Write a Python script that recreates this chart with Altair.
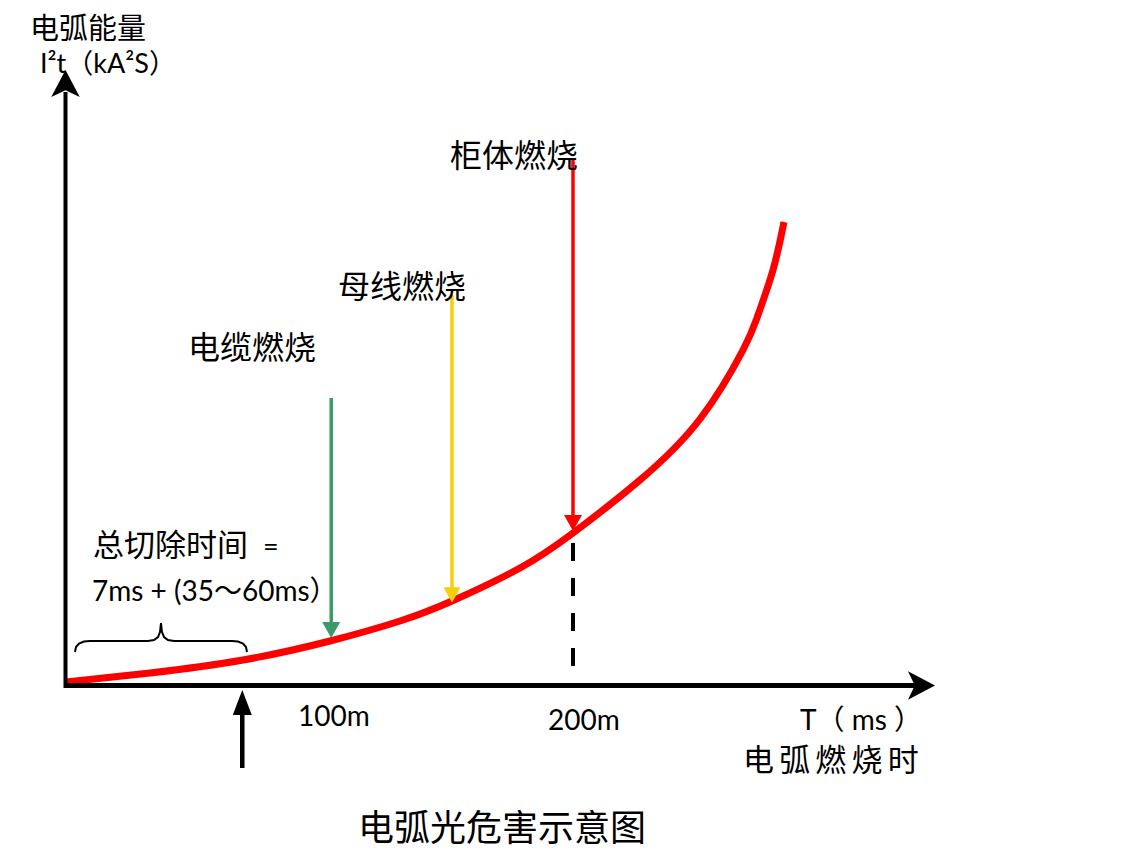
import altair as alt
import pandas as pd

# Coordinate system: x = arc burning time (ms), y = arc energy (arbitrary units)
X_DOMAIN = [-32.51, 432.92]
Y_DOMAIN = [-169, 677]

# Arc energy curve
curve_t = [-8.64, 25.93, 64.20, 100.0, 128.81, 150.21, 178.19, 200.0, 227.57, 252.26, 269.96, 276.13, 282.30, 286.83]
curve_e = [3, 12, 25, 44, 64, 84, 117, 152, 205, 266, 335, 370, 415, 463]

# Hazard marker arrows: cable, busbar, cabinet burning
marker_t = [100.5, 150.2, 200.0]
marker_top = [287, 390, 525]
marker_bottom = [60, 95, 169]
marker_head = [55, 90, 162]
marker_color = ["#3A9A68", "#F5CF0A", "#FF0000"]
marker_head_px = [18, 17, 18]

# Axis geometry (time / energy units)
axis_origin_t = -8.85
axis_end_t = 340.7
axis_tip_t = 342.8
yaxis_top_e = 593
yaxis_head_e = 600
clear_t = 63.9  # total clearing time marker

# Brace over the clearing time
brace_t = [-4.94, -4.53, -3.29, -1.23, 1.23, 25.10, 27.57, 29.22, 30.04, 30.45,
           30.86, 31.69, 33.33, 35.80, 59.67, 62.14, 64.20, 65.43, 65.84]
brace_e = [33, 38, 41.5, 43.5, 44, 44, 45, 48, 53, 62,
           53, 48, 45, 44, 44, 43.5, 41.5, 38, 33]

# Texts
labels = ["电弧能量", "I²t（kA²S）", "柜体燃烧", "母线燃烧", "电缆燃烧", "总切除时间", "=",
          "7ms + (35～60ms）", "100m", "200m", "T（ ms ）",
          "电\u2006弧\u2006燃\u2006烧\u2006时", "电弧光危害示意图"]
label_t = [-23.46, -19.34, 149.38, 103.29, 41.56, 2.47, 72.4,
           2.06, 86.83, 189.71, 293.42, 269.96, 111.52]
label_e = [655, 620, 528, 397, 336, 138, 137,
           92, -33, -37, -37, -77, -145]
label_size = [29, 27, 32, 32, 32, 31, 27,
              28, 28, 28, 28, 31, 36]

STEALTH = "M0,-1 L0.95,0.8 L0,0.35 L-0.95,0.8 Z"
TRI_UP = "M0,-1 L0.76,1 L-0.76,1 Z"
TRI_DOWN = "M-1,-0.9 L1,-0.9 L0,0.9 Z"

xs = alt.Scale(domain=X_DOMAIN, nice=False, zero=False)
ys = alt.Scale(domain=Y_DOMAIN, nice=False, zero=False)

curve_df = pd.DataFrame({"t": curve_t, "e": curve_e})
curve = alt.Chart(curve_df).mark_line(
    color="#FF0000", strokeWidth=7, interpolate="natural", strokeCap="butt"
).encode(
    x=alt.X("t:Q", scale=xs, axis=None),
    y=alt.Y("e:Q", scale=ys, axis=None),
)

seg_rows = [
    dict(x=axis_origin_t, x2=axis_origin_t, y=-3, y2=yaxis_top_e, c="#000000", w=4),
    dict(x=-9.47, x2=axis_end_t, y=-0.5, y2=-0.5, c="#000000", w=5),
    dict(x=clear_t, x2=clear_t, y=-83, y2=-27, c="#000000", w=4.5),
]
for t, top, bot, col in zip(marker_t, marker_top, marker_bottom, marker_color):
    seg_rows.append(dict(x=t, x2=t, y=top, y2=bot, c=col, w=3.5))
seg_df = pd.DataFrame(seg_rows)
segs = alt.Chart(seg_df).mark_rule(strokeCap="butt").encode(
    x=alt.X("x:Q", scale=xs, axis=None),
    x2="x2:Q",
    y=alt.Y("y:Q", scale=ys, axis=None),
    y2="y2:Q",
    color=alt.Color("c:N", scale=None),
    strokeWidth=alt.StrokeWidth("w:Q", scale=None),
)

dash_df = pd.DataFrame({"x": [200.0], "y": [142], "y2": [0]})
dashed = alt.Chart(dash_df).mark_rule(
    color="#000000", strokeWidth=4, strokeDash=[18, 17], strokeCap="butt"
).encode(
    x=alt.X("x:Q", scale=xs, axis=None),
    y=alt.Y("y:Q", scale=ys, axis=None),
    y2="y2:Q",
)

brace_df = pd.DataFrame({"t": brace_t, "e": brace_e, "o": list(range(len(brace_t)))})
brace = alt.Chart(brace_df).mark_line(color="#000000", strokeWidth=2).encode(
    x=alt.X("t:Q", scale=xs, axis=None),
    y=alt.Y("e:Q", scale=ys, axis=None),
    order="o:Q",
)

head_rows = [
    dict(x=axis_origin_t, y=yaxis_head_e, s=STEALTH, z=900, a=0, c="#000000"),
    dict(x=axis_tip_t, y=-0.5, s=STEALTH, z=900, a=90, c="#000000"),
    dict(x=clear_t, y=-17.5, s=TRI_UP, z=625, a=0, c="#000000"),
]
for t, he, col, px in zip(marker_t, marker_head, marker_color, marker_head_px):
    head_rows.append(dict(x=t, y=he, s=TRI_DOWN, z=px * px, a=0, c=col))
head_df = pd.DataFrame(head_rows)
heads = alt.Chart(head_df).mark_point(filled=True, opacity=1, strokeWidth=0).encode(
    x=alt.X("x:Q", scale=xs, axis=None),
    y=alt.Y("y:Q", scale=ys, axis=None),
    shape=alt.Shape("s:N", scale=None),
    size=alt.Size("z:Q", scale=None),
    angle=alt.Angle("a:Q", scale=None),
    color=alt.Color("c:N", scale=None),
)

text_df = pd.DataFrame({"label": labels, "t": label_t, "e": label_e, "size": label_size})
texts = alt.Chart(text_df).mark_text(
    align="left", baseline="middle", font="Lato, Noto Sans CJK SC", color="#000000"
).encode(
    x=alt.X("t:Q", scale=xs, axis=None),
    y=alt.Y("e:Q", scale=ys, axis=None),
    text="label:N",
    size=alt.Size("size:Q", scale=None),
)

chart = alt.layer(curve, dashed, segs, brace, heads, texts).properties(
    width=1131,
    height=846,
    padding=0,
    autosize=alt.AutoSizeParams(type="fit", contains="padding"),
).configure_view(stroke=None)

chart.save("out.html", embed_options={"renderer": "svg", "actions": False})
